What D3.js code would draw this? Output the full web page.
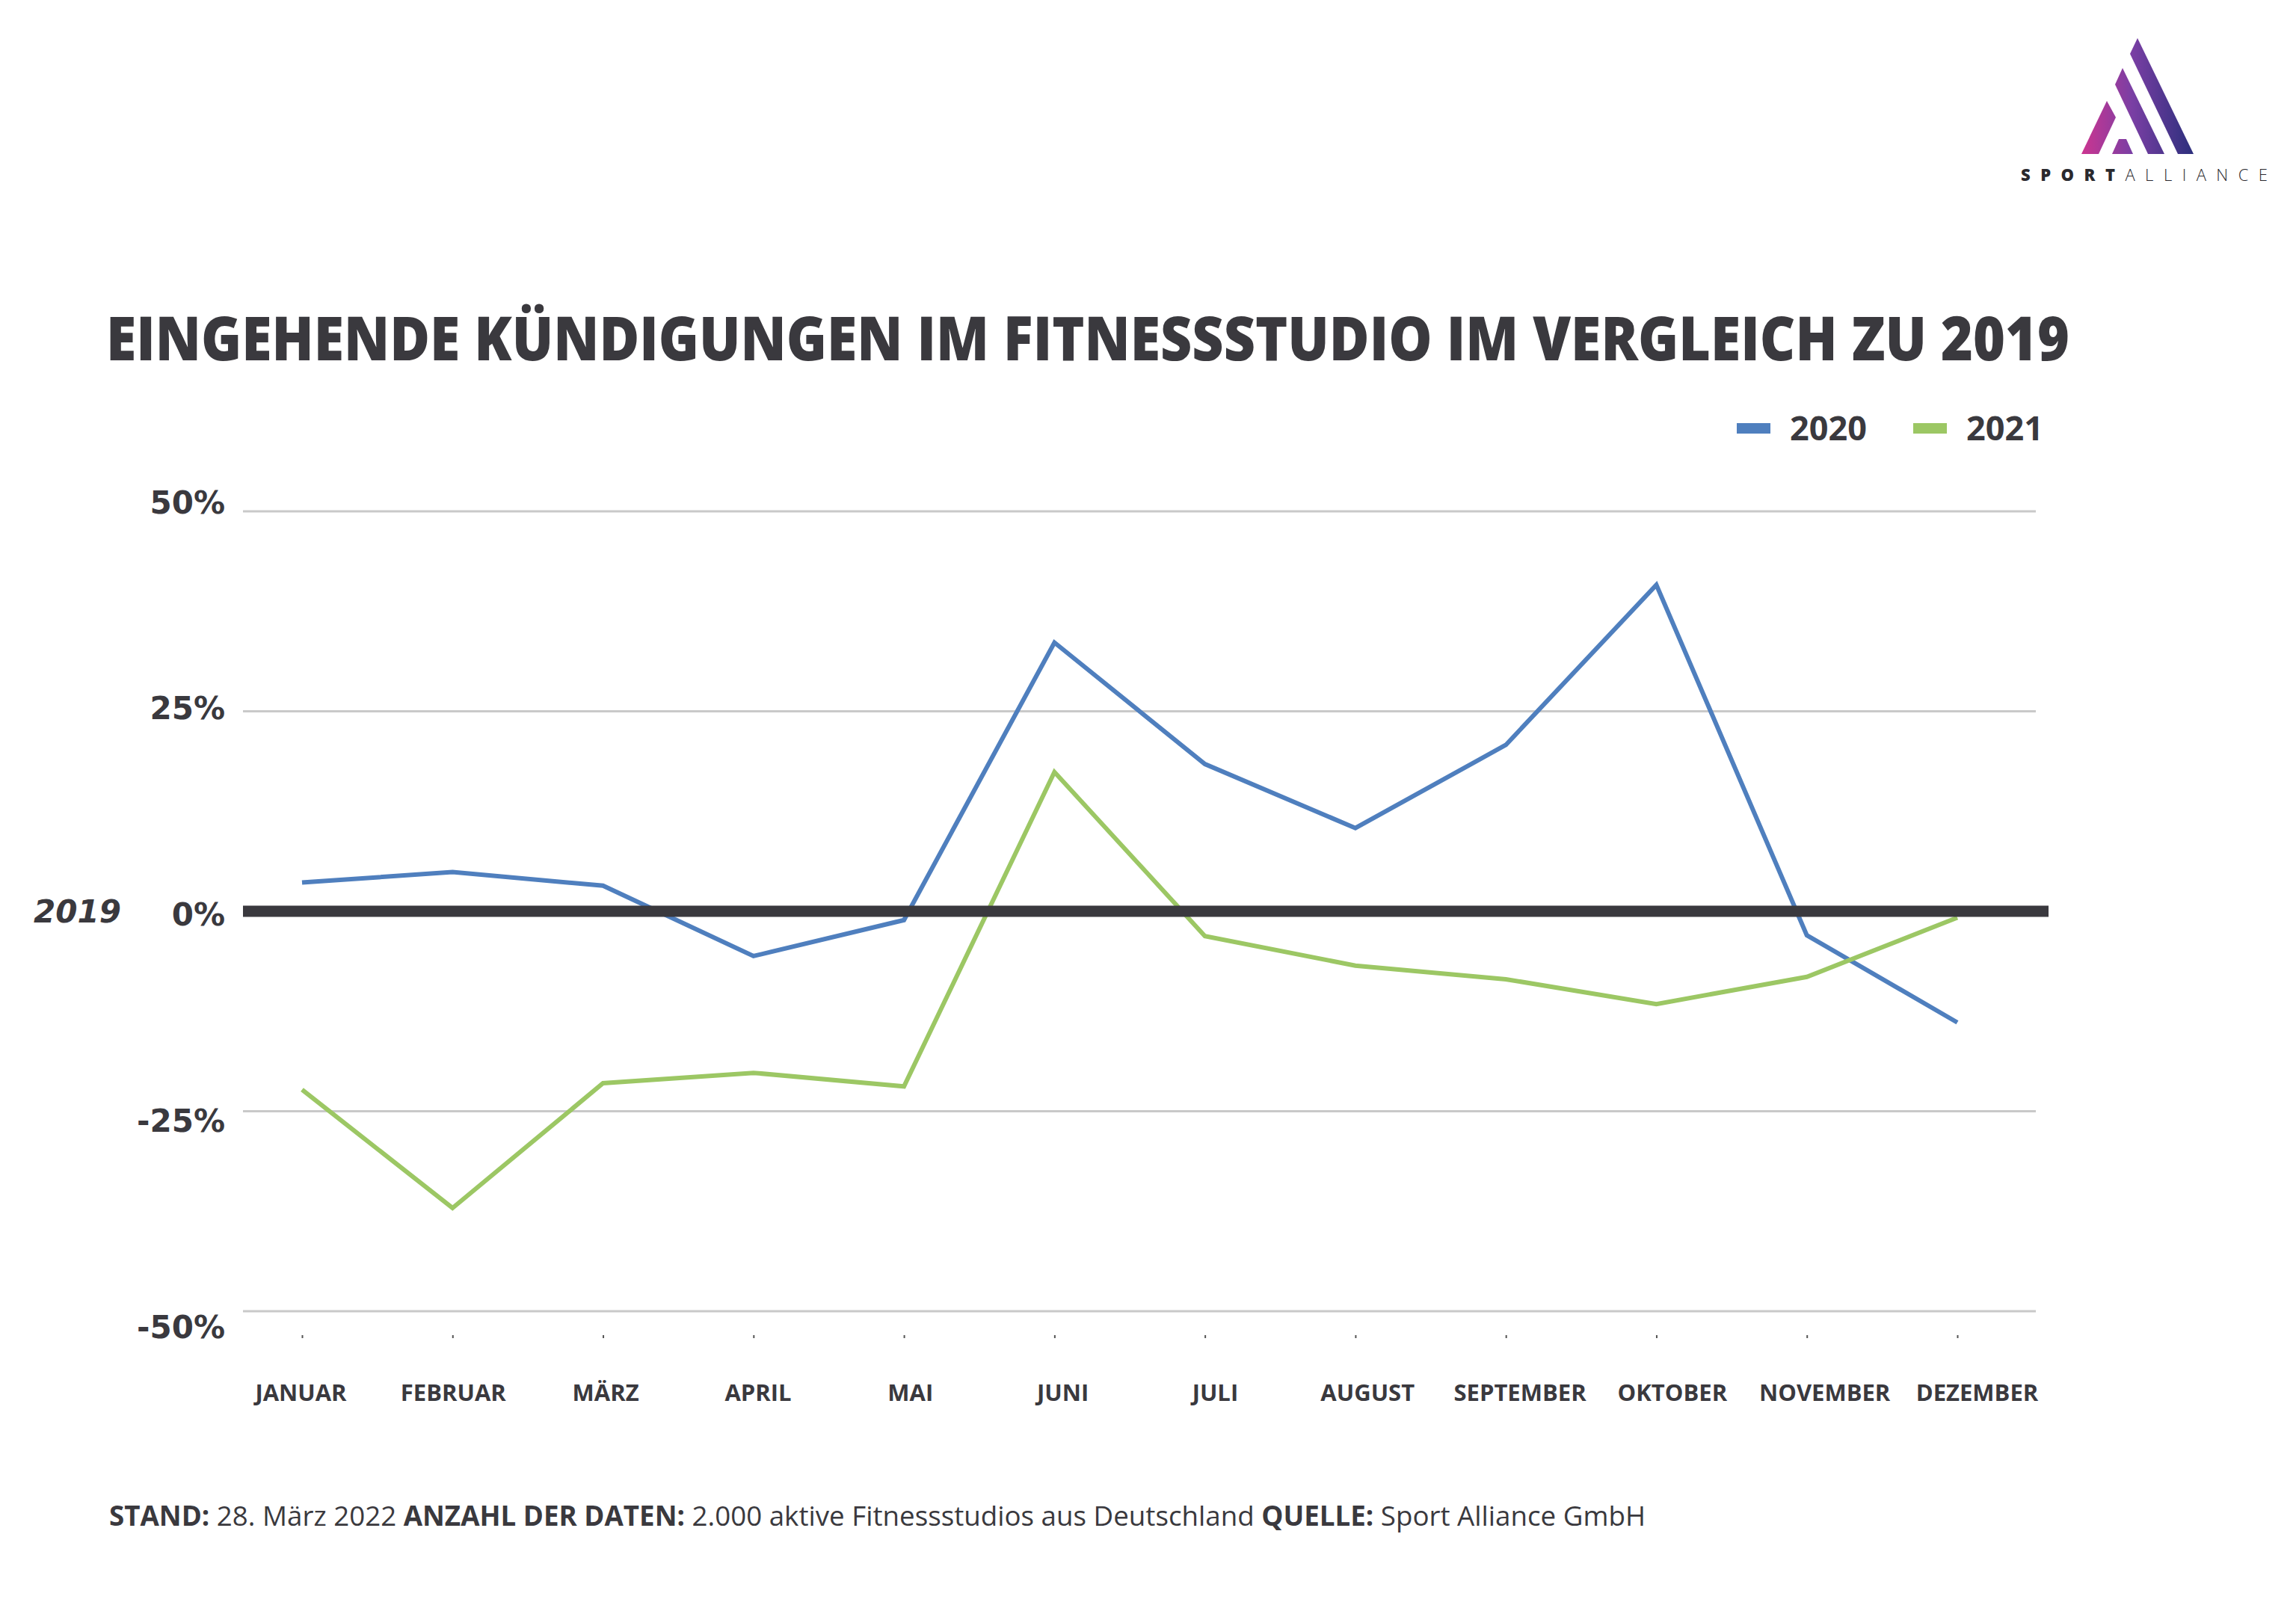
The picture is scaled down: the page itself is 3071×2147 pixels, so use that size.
<!DOCTYPE html>
<html>
<head>
<meta charset="utf-8">
<script src="https://cdn.jsdelivr.net/npm/d3@7"></script>
<style>
  html, body { margin: 0; padding: 0; background: #fff; }
  svg { display: block; }
</style>
</head>
<body>
<div id="chart"></div>
<script>
var W = 3071, H = 2147;
var ink = '#3a393e';

// data (percent change vs. 2019)
const months = ['JANUAR', 'FEBRUAR', 'MÄRZ', 'APRIL', 'MAI', 'JUNI', 'JULI',
  'AUGUST', 'SEPTEMBER', 'OKTOBER', 'NOVEMBER', 'DEZEMBER'];
const values2020 = [3.6, 4.9, 3.2, -5.6, -1.1, 33.6, 18.4, 10.4, 20.8, 40.8, -3.0, -13.9];
const values2021 = [-22.3, -37.1, -21.5, -20.2, -21.9, 17.4, -3.1, -6.8, -8.5, -11.6, -8.2, -0.8];
const yTicks = [50, 25, 0, -25, -50];
const seriesNames = ['2020', '2021'];
const seriesColors = ['#4f7fbe', '#9cc764'];

var svg = d3.select('#chart').append('svg')
  .attr('width', W)
  .attr('height', H);

svg.append('rect').attr('width', W).attr('height', H).attr('fill', '#fff');

// scales
var x = d3.scalePoint().domain(months).range([404, 2618]);
var xLabel = d3.scalePoint().domain(months).range([402, 2644]);
var y = d3.scaleLinear().domain([-50, 50]).range([1754, 684]);
var yLabel = d3.scaleLinear().domain([-50, 50]).range([1774, 671]);

// title
svg.append('text')
  .attr('x', 142)
  .attr('y', 482)
  .attr('textLength', 2626)
  .attr('lengthAdjust', 'spacingAndGlyphs')
  .style('font-family', '"Open Sans", sans-serif')
  .style('font-weight', 800)
  .style('font-size', '81px')
  .attr('fill', ink)
  .text('EINGEHENDE KÜNDIGUNGEN IM FITNESSSTUDIO IM VERGLEICH ZU 2019');

// gridlines
svg.append('g')
  .selectAll('line')
  .data(yTicks.filter(d => d !== 0))
  .join('line')
  .attr('x1', 325).attr('x2', 2723)
  .attr('y1', d => y(d)).attr('y2', d => y(d))
  .attr('stroke', '#c9c9c9')
  .attr('stroke-width', 3);

// y labels
var yAxis = svg.append('g')
  .attr('transform', 'translate(301,0)')
  .call(d3.axisLeft(yLabel).tickValues(yTicks).tickSize(0).tickPadding(0)
    .tickFormat(d => d + '%'));
yAxis.select('.domain').remove();
yAxis.selectAll('text')
  .attr('dy', '0.36em')
  .attr('fill', ink)
  .style('font-family', '"DejaVu Sans", sans-serif')
  .style('font-weight', 'bold')
  .style('font-size', '42px');

svg.append('text')
  .attr('x', 45)
  .attr('y', y(0))
  .attr('dy', '0.36em')
  .attr('fill', ink)
  .style('font-family', '"DejaVu Sans", sans-serif')
  .style('font-weight', 'bold')
  .style('font-style', 'italic')
  .style('font-size', '42px')
  .text('2019');

// tiny tick marks under the plot
var tickAxis = svg.append('g')
  .attr('transform', 'translate(0,1786)')
  .call(d3.axisBottom(x).tickSize(4).tickFormat(''));
tickAxis.select('.domain').remove();
tickAxis.selectAll('line').attr('stroke', '#555').attr('stroke-width', 2);

// month labels
var xAxis = svg.append('g')
  .attr('transform', 'translate(0,1852)')
  .call(d3.axisBottom(xLabel).tickSize(0).tickPadding(0));
xAxis.select('.domain').remove();
xAxis.selectAll('text')
  .attr('dy', '0.72em')
  .attr('fill', ink)
  .style('font-family', '"Open Sans", sans-serif')
  .style('font-weight', 'bold')
  .style('font-size', '31px');

// series lines
var line = d3.line()
  .x((d, i) => x(months[i]))
  .y(d => y(d));

[values2020, values2021].forEach((vals, i) => {
  svg.append('path')
    .attr('d', line(vals))
    .attr('fill', 'none')
    .attr('stroke', seriesColors[i])
    .attr('stroke-width', 6)
    .attr('stroke-linejoin', 'miter');
});

// baseline 2019 = 0%
svg.append('line')
  .attr('x1', 325).attr('x2', 2740)
  .attr('y1', y(0)).attr('y2', y(0))
  .attr('stroke', ink)
  .attr('stroke-width', 15);

// legend
var legendX = [2323, 2559];
seriesNames.forEach((name, i) => {
  svg.append('rect')
    .attr('x', legendX[i]).attr('y', 566)
    .attr('width', 45).attr('height', 14)
    .attr('fill', seriesColors[i]);
  svg.append('text')
    .attr('x', legendX[i] + 71)
    .attr('y', 589)
    .attr('fill', ink)
    .style('font-family', '"Open Sans", sans-serif')
    .style('font-weight', 'bold')
    .style('font-size', '45px')
    .text(name);
});

// footer
var foot = svg.append('text')
  .attr('x', 146)
  .attr('y', 2041)
  .attr('textLength', 2055)
  .attr('lengthAdjust', 'spacingAndGlyphs')
  .attr('fill', ink)
  .style('font-family', '"Open Sans", sans-serif')
  .style('font-size', '37px');
[['STAND:', true], [' 28. März 2022 ', false], ['ANZAHL DER DATEN:', true],
 [' 2.000 aktive Fitnessstudios aus Deutschland ', false], ['QUELLE:', true],
 [' Sport Alliance GmbH', false]].forEach(p => {
  foot.append('tspan')
    .style('font-weight', p[1] ? 'bold' : 'normal')
    .text(p[0]);
});

// logo
var defs = svg.append('defs');
var grad = defs.append('linearGradient')
  .attr('id', 'logoGrad')
  .attr('gradientUnits', 'userSpaceOnUse')
  .attr('x1', 2784).attr('y1', 0).attr('x2', 2934).attr('y2', 0);
grad.append('stop').attr('offset', 0).attr('stop-color', '#cc3590');
grad.append('stop').attr('offset', 0.45).attr('stop-color', '#7a3fa4');
grad.append('stop').attr('offset', 1).attr('stop-color', '#2c2f7c');

var logoShapes = [
  [[2784, 206], [2818, 135], [2830, 157], [2807, 206]],
  [[2829, 113], [2839, 91], [2895, 206], [2873, 206]],
  [[2849, 72], [2859, 51], [2934, 206], [2913, 206]],
  [[2825, 206], [2834, 186], [2844, 186], [2853, 206]]
];
svg.append('g')
  .selectAll('polygon')
  .data(logoShapes)
  .join('polygon')
  .attr('points', d => d.map(p => p.join(',')).join(' '))
  .attr('fill', 'url(#logoGrad)');

var logoText = svg.append('text')
  .attr('x', 2703)
  .attr('y', 242)
  .attr('textLength', 330)
  .attr('lengthAdjust', 'spacing')
  .attr('fill', '#2a292e')
  .style('font-family', '"Open Sans", sans-serif')
  .style('font-size', '22px');
logoText.append('tspan').style('font-weight', 800).text('SPORT');
logoText.append('tspan').style('font-weight', 300).text('ALLIANCE');
</script>
</body>
</html>
